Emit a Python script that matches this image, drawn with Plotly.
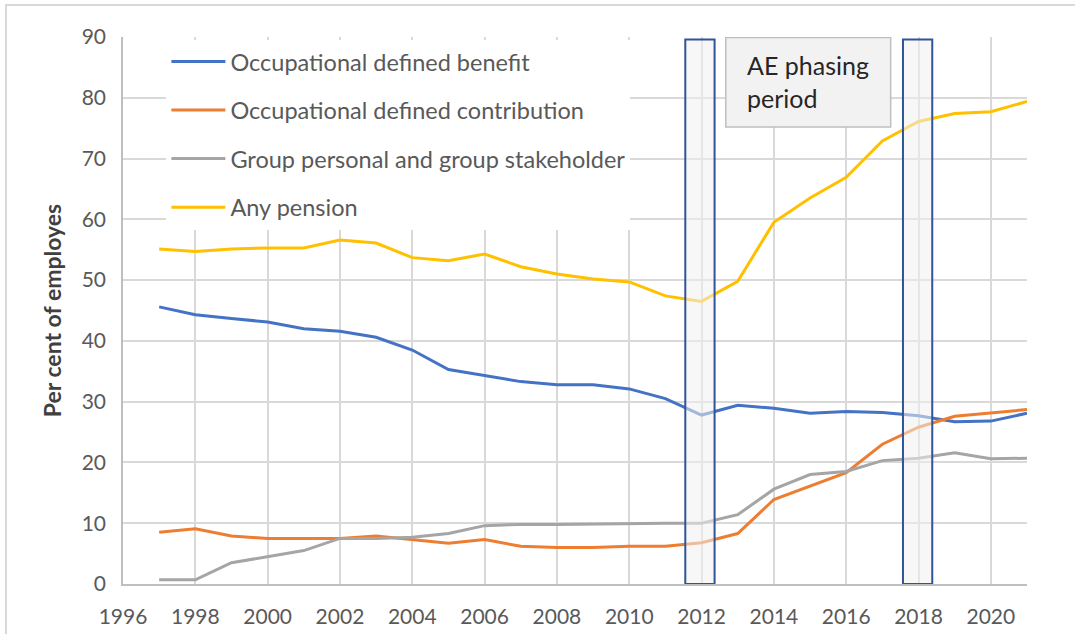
import plotly.graph_objects as go

years = list(range(1997, 2022))
db = [45.6, 44.3, 43.7, 43.1, 42.0, 41.6, 40.6, 38.5, 35.3, 34.3, 33.3, 32.8, 32.8,
      32.1, 30.5, 27.8, 29.4, 28.9, 28.1, 28.4, 28.2, 27.7, 26.7, 26.8, 28.1]
dc = [8.5, 9.1, 7.9, 7.5, 7.5, 7.5, 7.9, 7.3, 6.7, 7.3, 6.2, 6.0, 6.0,
      6.2, 6.2, 6.8, 8.3, 13.9, 16.1, 18.3, 23.0, 25.8, 27.6, 28.1, 28.7]
gp = [0.7, 0.7, 3.5, 4.5, 5.5, 7.5, 7.5, 7.7, 8.3, 9.6, 9.8, 9.8, 9.9,
      10.0, 10.0, 10.0, 11.4, 15.6, 18.0, 18.5, 20.3, 20.7, 21.6, 20.6, 20.7]
anyp = [55.1, 54.7, 55.1, 55.3, 55.3, 56.6, 56.1, 53.7, 53.2, 54.3, 52.2, 51.0, 50.2,
        49.7, 47.4, 46.5, 49.8, 59.5, 63.5, 66.9, 72.9, 76.1, 77.4, 77.7, 79.4]

series_names = ["Occupational defined benefit", "Occupational defined contribution",
                "Group personal and group stakeholder", "Any pension"]
series_values = [db, dc, gp, anyp]
series_colors = ["#4472c4", "#ed7d31", "#a5a5a5", "#ffc000"]

x_ticks = list(range(1996, 2021, 2))
y_ticks = list(range(0, 91, 10))
phase_bands = [(2011.55, 2012.36), (2017.57, 2018.38)]
box_text = "AE phasing<br>period"
y_title = "Per cent of employes"

FONT = "Lato"

fig = go.Figure()
for i, (name, vals, col) in enumerate(zip(series_names, series_values, series_colors)):
    fig.add_trace(go.Scatter(x=years, y=vals, mode="lines", name=name,
                             legendgroup=f"g{i}",
                             line=dict(color=col, width=3)))

shapes = []
for (a, b) in phase_bands:
    shapes.append(dict(type="rect", xref="x", yref="y", x0=a, x1=b, y0=0, y1=89.6,
                       line=dict(color="#2f5597", width=2),
                       fillcolor="rgba(240,240,240,0.55)", layer="above"))
# text box
shapes.append(dict(type="rect", xref="x", yref="y", x0=2012.67, x1=2017.23, y0=75.2, y1=89.9,
                   line=dict(color="#bfbfbf", width=1.5), fillcolor="#f2f2f2", layer="above"))
# outer frame
shapes.append(dict(type="rect", xref="paper", yref="paper", x0=-0.1295, x1=1.2, y0=-0.3, y1=1.0585,
                   line=dict(color="#d9d9d9", width=2), fillcolor="rgba(0,0,0,0)", layer="below"))

fig.update_layout(
    width=1075, height=634,
    margin=dict(l=123, r=48, t=37, b=50),
    paper_bgcolor="white", plot_bgcolor="white",
    font=dict(family=FONT, color="#595959"),
    showlegend=True,
    legend=dict(x=0.048, y=0.995, xanchor="left", yanchor="top",
                bgcolor="white", borderwidth=0,
                font=dict(family=FONT, size=23.5, color="#595959"),
                traceorder="grouped", tracegroupgap=15, itemwidth=54),
    shapes=shapes,
    annotations=[dict(xref="x", yref="y", x=2013.2, y=88.2, xanchor="left", yanchor="top",
                      text=box_text, showarrow=False, align="left",
                      font=dict(family=FONT, size=25, color="#262626"))],
)
fig.update_xaxes(range=[1996, 2021], tickvals=x_ticks, ticktext=[str(t) for t in x_ticks],
                 showgrid=True, gridcolor="#d9d9d9", gridwidth=1.5,
                 showline=True, linecolor="#bfbfbf", linewidth=1.5,
                 ticks="outside", ticklen=13, tickcolor="rgba(0,0,0,0)", automargin=False,
                 tickfont=dict(family=FONT, size=21, color="#595959"), zeroline=False)
fig.update_yaxes(range=[0, 90], tickvals=y_ticks,
                 showgrid=True, gridcolor="#d9d9d9", gridwidth=1.5,
                 showline=True, linecolor="#bfbfbf", linewidth=1.5,
                 ticks="outside", ticklen=11, tickcolor="rgba(0,0,0,0)", automargin=False,
                 tickfont=dict(family=FONT, size=21, color="#595959"), zeroline=False,
                 title=dict(text=f"<b>{y_title}</b>", standoff=14,
                            font=dict(family=FONT, size=23, color="#404040")))

fig.write_html("out.html", config={"displayModeBar": False},
               post_script="document.body.style.margin='0';")
